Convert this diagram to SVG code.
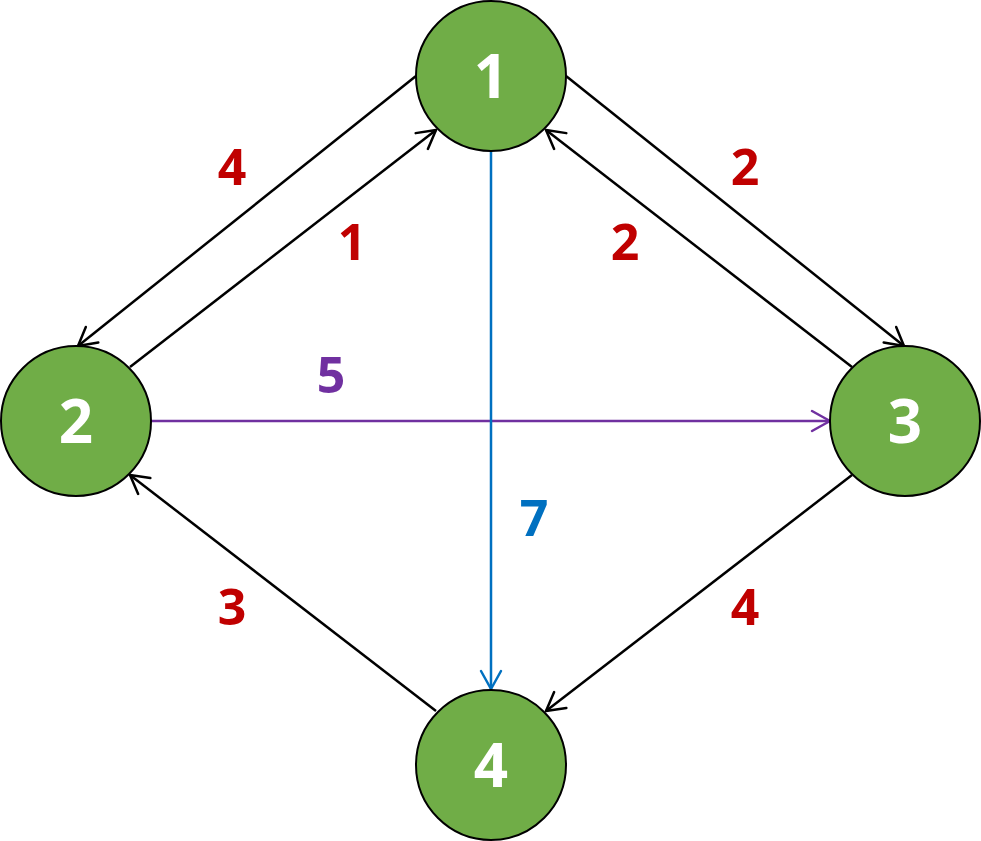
<svg xmlns="http://www.w3.org/2000/svg" width="981" height="841" viewBox="0 0 981 841">
<style>
.node circle{fill:#70AD47;stroke:#000;stroke-width:2}
.node text{fill:#fff;font-family:"Open Sans","Noto Sans",sans-serif;font-weight:bold;font-size:60px;text-anchor:middle}
.e{fill:none;stroke-width:2.5}
.lbl{font-family:"Open Sans","Noto Sans",sans-serif;font-weight:bold;font-size:50px;text-anchor:middle}
</style>
<defs>
<marker id="ak" viewBox="0 0 24 24" refX="21" refY="12" markerWidth="24" markerHeight="24" markerUnits="userSpaceOnUse" orient="auto"><path d="M3,2 L21,12 L3,22" fill="none" stroke="#000" stroke-width="2.5" stroke-linecap="round" stroke-linejoin="round"/></marker>
<marker id="ap" viewBox="0 0 24 24" refX="21" refY="12" markerWidth="24" markerHeight="24" markerUnits="userSpaceOnUse" orient="auto"><path d="M3,2 L21,12 L3,22" fill="none" stroke="#7030A0" stroke-width="2.5" stroke-linecap="round" stroke-linejoin="round"/></marker>
<marker id="ab" viewBox="0 0 24 24" refX="21" refY="12" markerWidth="24" markerHeight="24" markerUnits="userSpaceOnUse" orient="auto"><path d="M3,2 L21,12 L3,22" fill="none" stroke="#0070C0" stroke-width="2.5" stroke-linecap="round" stroke-linejoin="round"/></marker>
</defs>
<g id="connectors">
<line class="e" stroke="#000" x1="416" y1="76" x2="78" y2="346" marker-end="url(#ak)"/>
<line class="e" stroke="#000" x1="130" y1="367" x2="436" y2="130" marker-end="url(#ak)"/>
<line class="e" stroke="#000" x1="566" y1="76" x2="904" y2="346" marker-end="url(#ak)"/>
<line class="e" stroke="#000" x1="852" y1="367" x2="546" y2="130" marker-end="url(#ak)"/>
<line class="e" stroke="#000" x1="852" y1="475" x2="546" y2="711" marker-end="url(#ak)"/>
<line class="e" stroke="#000" x1="436" y1="711" x2="130" y2="475" marker-end="url(#ak)"/>
<line class="e" stroke="#7030A0" x1="151" y1="421" x2="830" y2="421" marker-end="url(#ap)"/>
<line class="e" stroke="#0070C0" x1="491" y1="151" x2="491" y2="689" marker-end="url(#ab)"/>
<text class="lbl" fill="#C00000" x="232" y="185">4</text>
<text class="lbl" fill="#C00000" x="352" y="260">1</text>
<text class="lbl" fill="#C00000" x="745" y="185">2</text>
<text class="lbl" fill="#C00000" x="625" y="260">2</text>
<text class="lbl" fill="#7030A0" x="331" y="393">5</text>
<text class="lbl" fill="#0070C0" x="534" y="536">7</text>
<text class="lbl" fill="#C00000" x="232" y="625">3</text>
<text class="lbl" fill="#C00000" x="745" y="625">4</text>
</g>
<g id="n1" class="node"><circle cx="491" cy="76" r="75"/><text x="491" y="98">1</text></g>
<g id="n2" class="node"><circle cx="76" cy="421" r="75"/><text x="76" y="443">2</text></g>
<g id="n3" class="node"><circle cx="905" cy="421" r="75"/><text x="905" y="443">3</text></g>
<g id="n4" class="node"><circle cx="491" cy="765" r="75"/><text x="491" y="787">4</text></g>
</svg>
